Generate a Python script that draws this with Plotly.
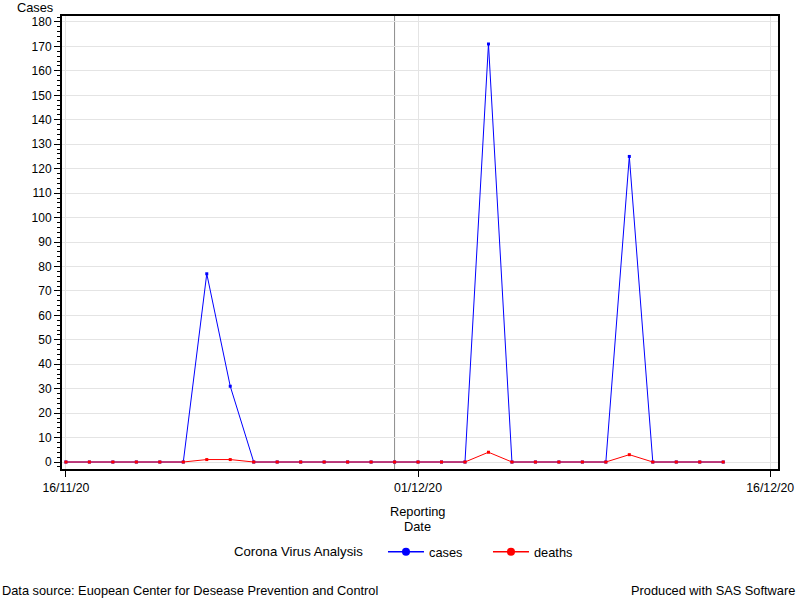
import plotly.graph_objects as go
import pandas as pd

dates = pd.date_range("2020-11-16", "2020-12-14", freq="D").strftime("%Y-%m-%d").tolist()
cases = [0, 0, 0, 0, 0, 0, 77, 31, 0, 0, 0, 0, 0, 0, 0, 0, 0, 0, 171, 0, 0, 0, 0, 0, 125, 0, 0, 0, 0]
deaths = [0, 0, 0, 0, 0, 0, 1, 1, 0, 0, 0, 0, 0, 0, 0, 0, 0, 0, 4, 0, 0, 0, 0, 0, 3, 0, 0, 0, 0]
x_tick_vals = ["2020-11-16", "2020-12-01", "2020-12-16"]
x_tick_text = ["16/11/20", "01/12/20", "16/12/20"]
ref_date = "2020-11-30"

FONT = "Liberation Sans, Arial, sans-serif"
TXT = 12.8

fig = go.Figure()
fig.add_trace(go.Scatter(x=dates, y=cases, mode="lines+markers", name="cases",
                         line=dict(color="#0000FF", width=1),
                         marker=dict(symbol="square", size=3, color="#0000FF"),
                         showlegend=False))
fig.add_trace(go.Scatter(x=dates, y=deaths, mode="lines+markers", name="deaths",
                         line=dict(color="#FF0000", width=1),
                         marker=dict(symbol="square", size=3, color="#FF0000"),
                         showlegend=False))
# legend-only entries
fig.add_trace(go.Scatter(x=[None], y=[None], mode="lines+markers", name="cases",
                         line=dict(color="#0000FF", width=1.5),
                         marker=dict(symbol="circle", size=8, color="#0000FF")))
fig.add_trace(go.Scatter(x=[None], y=[None], mode="lines+markers", name="deaths",
                         line=dict(color="#FF0000", width=1.5),
                         marker=dict(symbol="circle", size=8, color="#FF0000")))

fig.add_shape(type="line", xref="x", yref="paper", x0=ref_date, x1=ref_date, y0=0, y1=1,
              line=dict(color="#8c8c8c", width=1), layer="below")

fig.update_layout(
    width=800, height=600,
    margin=dict(l=62, r=22, t=16, b=131, autoexpand=False),
    paper_bgcolor="white", plot_bgcolor="white",
    font=dict(family=FONT, size=12, color="#000000"),
    showlegend=True,
    legend=dict(orientation="h", x=0.4483, xanchor="left", y=-0.183, yanchor="middle",
                font=dict(size=TXT), itemwidth=36,
                entrywidth=54, entrywidthmode="pixels"),
    xaxis=dict(type="date", range=["2020-11-15 20:00", "2020-12-16 08:00"],
               tickvals=x_tick_vals, ticktext=x_tick_text, automargin=False,
               ticks="outside", ticklen=6, tickcolor="black", tickwidth=1,
               showgrid=True, gridcolor="#e4e4e4", gridwidth=1,
               showline=True, linecolor="black", linewidth=2, mirror=True,
               zeroline=False, tickfont=dict(size=12.3)),
    yaxis=dict(range=[-2.86, 182.45], dtick=10, tick0=0, automargin=False,
               ticks="outside", ticklen=6, tickcolor="black", tickwidth=1,
               minor=dict(dtick=2, ticks="outside", ticklen=3, tickcolor="black", showgrid=False),
               showgrid=True, gridcolor="#e4e4e4", gridwidth=1,
               showline=True, linecolor="black", linewidth=2, mirror=True,
               zeroline=False, tickfont=dict(size=12)),
)

fig.add_annotation(text="Cases", xref="paper", yref="paper", x=-0.0098, y=1, xanchor="right",
                   yanchor="bottom", showarrow=False, font=dict(size=TXT), yshift=-1)
fig.add_annotation(text="Corona Virus Analysis", xref="paper", yref="paper", x=0.4225,
                   y=-0.1832, xanchor="right", yanchor="middle", showarrow=False,
                   font=dict(size=13.2))
fig.add_annotation(text="Reporting", xref="paper", yref="paper", x=0.497, y=0,
                   xanchor="center", yanchor="middle", showarrow=False, yshift=-42,
                   font=dict(size=TXT))
fig.add_annotation(text="Date", xref="paper", yref="paper", x=0.497, y=0,
                   xanchor="center", yanchor="middle", showarrow=False, yshift=-57,
                   font=dict(size=TXT))
fig.add_annotation(text="Data source: Euopean Center for Desease Prevention and Control",
                   xref="paper", yref="paper", x=-0.0866, y=-0.269, xanchor="left",
                   yanchor="middle", showarrow=False, font=dict(size=TXT))
fig.add_annotation(text="Produced with SAS Software",
                   xref="paper", yref="paper", x=1.0265, y=-0.269, xanchor="right",
                   yanchor="middle", showarrow=False, font=dict(size=TXT))

fig.write_html("out.html", config={"displayModeBar": False},
               post_script="document.body.style.margin='0';")
